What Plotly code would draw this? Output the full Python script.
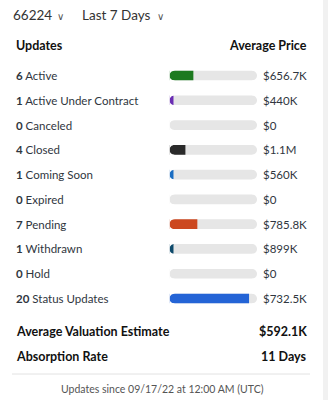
import plotly.graph_objects as go

W, H = 328, 400

statuses = ["Active", "Active Under Contract", "Canceled", "Closed", "Coming Soon",
            "Expired", "Pending", "Withdrawn", "Hold", "Status Updates"]
counts = [6, 1, 0, 4, 1, 0, 7, 1, 0, 20]
prices = ["$656.7K", "$440K", "$0", "$1.1M", "$560K", "$0", "$785.8K", "$899K", "$0", "$732.5K"]
colors = ["#1d7a20", "#6a2db3", "#999999", "#2a2a2a", "#1a6dc2", "#999999",
          "#cc4820", "#0e4a6b", "#999999", "#2464d6"]
scale_max = 22

zip_code = "66224"
period = "Last 7 Days"
summary_labels = ["Average Valuation Estimate", "Absorption Rate"]
summary_values = ["$592.1K", "11 Days"]
footer = "Updates since 09/17/22 at 12:00 AM (UTC)"

FONT = "Lato, 'Open Sans', sans-serif"
BAR_W = 0.39

def px_x(p):
    return p / W

def px_y(p):
    return 1 - p / H

ys = list(range(len(statuses)))

fig = go.Figure()
fig.add_trace(go.Bar(y=ys, x=[scale_max] * len(ys), orientation="h",
                     marker=dict(color="#e6e6e6", line_width=0),
                     width=BAR_W, hoverinfo="skip", showlegend=False))
fig.add_trace(go.Bar(y=ys, x=counts, orientation="h",
                     marker=dict(color=colors, line_width=0),
                     width=BAR_W, hoverinfo="skip", showlegend=False))

row_top, row_bot = 75.5, 298.5
unit = (row_bot - row_top) / (len(ys) - 1)
y_dom = [px_y(row_bot + unit / 2), px_y(row_top - unit / 2)]

fig.update_layout(
    width=W, height=H, margin=dict(l=0, r=0, t=0, b=0),
    paper_bgcolor="white", plot_bgcolor="rgba(0,0,0,0)",
    barmode="overlay",
    font=dict(family=FONT, color="#333"),
    xaxis=dict(domain=[px_x(169.5), px_x(257)], range=[0, scale_max], visible=False, fixedrange=True),
    yaxis=dict(domain=y_dom, range=[len(ys) - 0.5, -0.5], visible=False, fixedrange=True),
)

# white corner masks turn the square bar ends into pill ends
r = BAR_W * unit / 2
k = 0.5523
e = 0.8

def mask_path(sign):
    def X(v):
        return sign * v
    return (f"M{X(-e)},{-r - e} L{X(r)},{-r - e} L{X(r)},{-r} "
            f"C{X(r - k * r)},{-r} {X(0)},{-k * r} {X(0)},0 "
            f"C{X(0)},{k * r} {X(r - k * r)},{r} {X(r)},{r} "
            f"L{X(r)},{r + e} L{X(-e)},{r + e} Z")

shapes = []
for i in ys:
    for anchor, sign in ((0, 1), (scale_max, -1)):
        shapes.append(dict(type="path", xref="x", yref="y", xsizemode="pixel", ysizemode="pixel",
                           xanchor=anchor, yanchor=i, path=mask_path(sign),
                           fillcolor="white", line_width=0, layer="above"))

shapes += [
    dict(type="rect", xref="paper", yref="paper", x0=px_x(323), x1=1, y0=0, y1=1,
         fillcolor="#f1f1f1", line_width=0, layer="below"),
    dict(type="line", xref="paper", yref="paper", x0=px_x(12), x1=px_x(310),
         y0=px_y(374), y1=px_y(374), line=dict(color="#e2e2e2", width=1)),
]

ann = []
for i, (s, c, p) in enumerate(zip(statuses, counts, prices)):
    ann.append(dict(x=px_x(14), xref="paper", y=i, yref="y", xanchor="left", yanchor="middle",
                    text=f"<b>{c}</b> {s}", showarrow=False,
                    font=dict(size=11.5, color="#2f3640", family=FONT)))
    ann.append(dict(x=px_x(261), xref="paper", y=i, yref="y", xanchor="left", yanchor="middle",
                    text=p, showarrow=False, font=dict(size=11.5, color="#2f3640", family=FONT)))

def pa(x, y, text, xanchor="left", size=12, color="#222", bold=False):
    t = f"<b>{text}</b>" if bold else text
    ann.append(dict(x=px_x(x), y=px_y(y), xref="paper", yref="paper", xanchor=xanchor,
                    yanchor="middle", text=t, showarrow=False,
                    font=dict(size=size, color=color, family=FONT)))

pa(11, 15, zip_code, size=13.5, color="#333")
pa(55, 16, "\u2228", size=10, color="#555")
pa(80, 15, period, size=13.5, color="#333")
pa(155, 16, "\u2228", size=10, color="#555")
pa(14, 45, "Updates", size=12.5, bold=True, color="#111")
pa(309, 45, "Average Price", xanchor="right", size=12.5, bold=True, color="#111")
for lab, val, yy in zip(summary_labels, summary_values, [331, 356]):
    pa(14, yy, lab, size=12.5, bold=True, color="#111")
    pa(309, yy, val, xanchor="right", size=12.5, bold=True, color="#111")
pa(162, 389, footer, xanchor="center", size=10.5, color="#555")

fig.update_layout(annotations=ann, shapes=shapes)

fig.write_html("out.html", config=dict(displayModeBar=False))
